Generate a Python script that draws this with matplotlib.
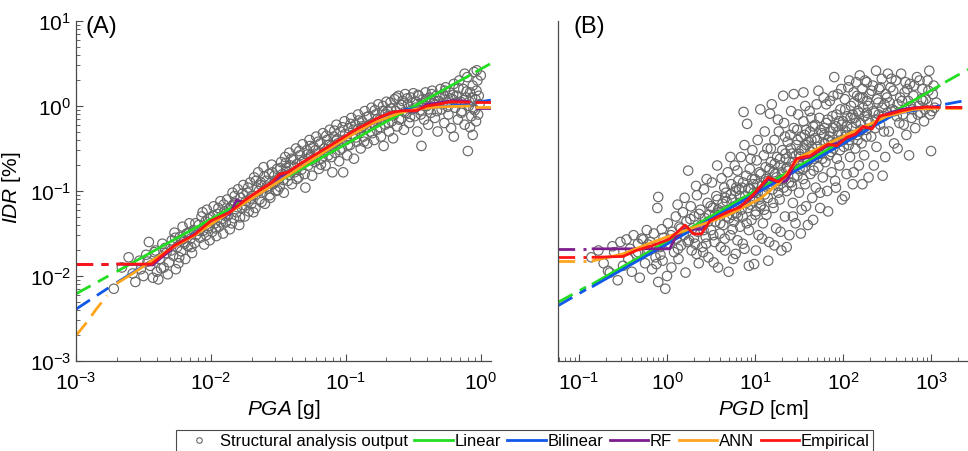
#1. Imports
import numpy as np
import matplotlib
matplotlib.use('Agg')
import matplotlib.pyplot as plt
from matplotlib.lines import Line2D

plt.rcParams['font.family'] = 'Liberation Sans'
plt.rcParams['mathtext.fontset'] = 'custom'
plt.rcParams['mathtext.rm'] = 'Liberation Sans'
plt.rcParams['mathtext.it'] = 'Liberation Sans:italic'
plt.rcParams['axes.unicode_minus'] = False

#2. Data (log10 values)
# panel A: structural analysis output, log10(PGA [g]) / log10(IDR [%])
a_points_log = [
    (-2.72, -2.15), (-2.61, -1.78), (-2.56, -2.07), (-2.52, -1.92), (-2.58, -1.97), (-2.66, -1.90), (-2.53, -1.82), (-2.50, -2.00),
    (-2.48, -1.75), (-2.45, -1.88), (-2.43, -2.02), (-2.41, -1.70), (-2.40, -1.95), (-2.38, -1.80), (-2.36, -1.62), (-2.35, -1.90),
    (-2.33, -1.73), (-2.32, -1.98), (-2.31, -1.84), (-2.46, -1.60), (-2.39, -2.04), (-2.34, -1.67),
    (-2.29, -1.58), (-2.28, -1.76), (-2.27, -1.49), (-2.25, -1.66), (-2.24, -1.85), (-2.23, -1.54), (-2.22, -1.71), (-2.21, -1.42),
    (-2.20, -1.60), (-2.19, -1.80), (-2.18, -1.50), (-2.17, -1.65), (-2.16, -1.38), (-2.15, -1.56), (-2.14, -1.73), (-2.13, -1.46),
    (-2.12, -1.61), (-2.11, -1.52), (-2.26, -1.92),
    (-2.09, -1.40), (-2.08, -1.55), (-2.07, -1.30), (-2.06, -1.47), (-2.05, -1.63), (-2.04, -1.36), (-2.03, -1.22), (-2.02, -1.44),
    (-2.01, -1.58), (-2.00, -1.31), (-1.99, -1.48), (-1.98, -1.18), (-1.97, -1.38), (-1.96, -1.53), (-1.95, -1.27), (-1.94, -1.42),
    (-1.93, -1.12), (-1.92, -1.33), (-1.91, -1.50), (-1.90, -1.24),
    (-1.89, -1.37), (-1.88, -1.10), (-1.87, -1.28), (-1.86, -1.45), (-1.85, -1.18), (-1.84, -1.02), (-1.83, -1.32), (-1.82, -1.14),
    (-1.81, -1.25), (-1.80, -0.98), (-1.79, -1.40), (-1.78, -1.08), (-1.77, -1.20), (-1.76, -0.93), (-1.75, -1.30), (-1.74, -1.12),
    (-1.73, -1.02), (-1.72, -1.24), (-1.71, -0.90), (-1.70, -1.15),
    (-1.69, -1.06), (-1.68, -0.84), (-1.67, -1.20), (-1.66, -0.96), (-1.65, -0.78), (-1.64, -1.10), (-1.63, -0.90), (-1.62, -1.02),
    (-1.61, -0.72), (-1.60, -1.15), (-1.59, -0.88), (-1.58, -0.97), (-1.57, -0.80), (-1.56, -1.08), (-1.55, -0.69), (-1.54, -0.92),
    (-1.53, -0.82), (-1.52, -1.00), (-1.51, -0.74), (-1.50, -0.86),
    (-1.49, -0.95), (-1.48, -0.66), (-1.47, -0.80), (-1.46, -1.02), (-1.45, -0.60), (-1.44, -0.73), (-1.43, -0.88), (-1.42, -0.55),
    (-1.41, -0.70), (-1.40, -0.92), (-1.39, -0.63), (-1.38, -0.78), (-1.37, -0.50), (-1.36, -0.68), (-1.35, -0.84), (-1.34, -0.58),
    (-1.33, -0.75), (-1.32, -0.45), (-1.31, -0.64), (-1.30, -0.96),
    (-1.29, -0.52), (-1.28, -0.70), (-1.27, -0.40), (-1.26, -0.60), (-1.25, -0.82), (-1.24, -0.48), (-1.23, -0.66), (-1.22, -0.36),
    (-1.21, -0.56), (-1.20, -0.74), (-1.19, -0.44), (-1.18, -0.62), (-1.17, -0.32), (-1.16, -0.50), (-1.15, -0.70), (-1.14, -0.40),
    (-1.13, -0.58), (-1.12, -0.28), (-1.11, -0.47), (-1.10, -0.78),
    (-1.09, -0.36), (-1.08, -0.55), (-1.07, -0.22), (-1.06, -0.44), (-1.05, -0.65), (-1.04, -0.30), (-1.03, -0.50), (-1.02, -0.78),
    (-1.01, -0.18), (-1.00, -0.40), (-0.99, -0.58), (-0.98, -0.26), (-0.97, -0.46), (-0.96, -0.14), (-0.95, -0.34), (-0.94, -0.62),
    (-0.93, -0.22), (-0.92, -0.42), (-0.91, -0.10), (-0.90, -0.30),
    (-0.89, -0.50), (-0.88, -0.18), (-0.87, -0.36), (-0.86, -0.06), (-0.85, -0.26), (-0.84, -0.44), (-0.83, -0.12), (-0.82, -0.30),
    (-0.81, -0.02), (-0.80, -0.20), (-0.79, -0.40), (-0.78, -0.10), (-0.77, -0.28), (-0.76, 0.02), (-0.75, -0.16), (-0.74, -0.36),
    (-0.73, -0.06), (-0.72, -0.47), (-0.71, -0.22), (-0.70, 0.05),
    (-0.69, -0.12), (-0.68, -0.30), (-0.67, 0.04), (-0.66, -0.18), (-0.65, -0.38), (-0.64, 0.08), (-0.63, -0.06), (-0.62, -0.24),
    (-0.61, 0.12), (-0.60, -0.02), (-0.59, -0.15), (-0.58, 0.06), (-0.57, -0.28), (-0.56, 0.14), (-0.55, -0.08), (-0.54, 0.02),
    (-0.53, -0.20), (-0.52, 0.10), (-0.51, -0.04), (-0.50, 0.15),
    (-0.49, -0.12), (-0.48, 0.05), (-0.47, -0.30), (-0.46, 0.12), (-0.45, -0.05), (-0.44, -0.47), (-0.43, 0.08), (-0.42, -0.16),
    (-0.41, 0.16), (-0.40, 0.00), (-0.39, -0.22), (-0.38, 0.10), (-0.37, -0.08), (-0.36, 0.18), (-0.35, 0.03), (-0.34, -0.14),
    (-0.33, 0.12), (-0.32, -0.30), (-0.31, 0.06), (-0.30, 0.20),
    (-0.29, -0.04), (-0.28, 0.14), (-0.27, -0.20), (-0.26, 0.22), (-0.25, 0.04), (-0.24, -0.10), (-0.23, 0.16), (-0.22, -0.26),
    (-0.21, 0.08), (-0.20, 0.26), (-0.19, -0.02), (-0.18, 0.12), (-0.17, -0.16), (-0.16, 0.30), (-0.15, 0.05), (-0.14, -0.06),
    (-0.13, 0.20), (-0.12, -0.22), (-0.11, 0.10), (-0.10, 0.34),
    (-0.09, 0.00), (-0.08, 0.16), (-0.07, -0.12), (-0.06, 0.24), (-0.05, 0.40), (-0.045, -0.05), (-0.04, 0.08), (-0.035, -0.18),
    (-0.03, 0.42), (-0.025, 0.30), (-0.02, -0.10), (-0.015, 0.12), (-0.01, 0.02), (-0.096, -0.53), (-0.06, -0.34), (0.0, 0.36),
    (-0.12, 0.38), (-0.20, -0.36), (-0.08, -0.25),
    # denser core of the cloud
    (-2.47, -1.83), (-2.42, -1.72), (-2.37, -1.91), (-2.295, -1.70), (-2.265, -1.55), (-2.235, -1.78), (-2.195, -1.62),
    (-2.165, -1.49), (-2.145, -1.66), (-2.115, -1.38), (-2.085, -1.47), (-2.062, -1.25), (-2.035, -1.52), (-2.015, -1.41),
    (-1.985, -1.29), (-1.965, -1.44), (-1.945, -1.20), (-1.925, -1.37), (-1.905, -1.16), (-1.885, -1.30), (-1.865, -1.21),
    (-1.845, -1.38), (-1.825, -1.06), (-1.805, -1.19), (-1.785, -1.31), (-1.765, -1.03), (-1.745, -1.17), (-1.725, -0.96),
    (-1.705, -1.09), (-1.685, -1.25), (-1.665, -0.88), (-1.645, -1.00), (-1.625, -1.13), (-1.605, -0.83), (-1.585, -0.95),
    (-1.565, -1.05), (-1.545, -0.78), (-1.525, -0.90), (-1.505, -0.99), (-1.485, -0.73), (-1.465, -0.87), (-1.445, -0.67),
    (-1.425, -0.81), (-1.405, -0.62), (-1.385, -0.72), (-1.365, -0.86), (-1.345, -0.53), (-1.325, -0.66), (-1.305, -0.80),
    (-1.285, -0.57), (-1.265, -0.47), (-1.245, -0.63), (-1.225, -0.52), (-1.205, -0.42), (-1.185, -0.69), (-1.165, -0.55),
    (-1.145, -0.35), (-1.125, -0.46), (-1.105, -0.60), (-1.085, -0.29), (-1.065, -0.39), (-1.045, -0.52), (-1.025, -0.25),
    (-1.005, -0.33), (-0.985, -0.46), (-0.965, -0.21), (-0.945, -0.28), (-0.925, -0.37), (-0.905, -0.17), (-0.885, -0.26),
    (-0.865, -0.42), (-0.845, -0.13), (-0.825, -0.22), (-0.805, -0.32), (-0.785, -0.05), (-0.765, -0.15), (-0.745, -0.25),
    (-0.725, 0.00), (-0.705, -0.09), (-0.685, -0.20), (-0.665, -0.03), (-0.645, -0.11), (-0.625, 0.10), (-0.605, -0.16),
    (-0.585, 0.01), (-0.565, -0.07), (-0.545, 0.09), (-0.525, -0.13), (-0.505, 0.04), (-0.485, -0.02), (-0.465, 0.13),
    (-0.445, -0.10), (-0.425, 0.03), (-0.405, 0.08), (-0.385, -0.04), (-0.365, 0.14), (-0.345, 0.06), (-0.325, -0.06),
    (-0.305, 0.11), (-0.285, 0.02), (-0.265, 0.18), (-0.245, -0.01), (-0.225, 0.09), (-0.205, 0.13), (-0.185, 0.04),
    (-0.165, 0.21), (-0.145, -0.08), (-0.125, 0.07), (-0.105, 0.17), (-0.085, 0.05), (-0.065, 0.10), (-0.055, -0.03),
    (-0.032, 0.18), (-2.21, -1.57), (-2.02, -1.33), (-1.83, -1.15), (-1.63, -0.93), (-1.44, -0.77), (-1.26, -0.58),
    (-1.07, -0.41), (-0.88, -0.24), (-0.69, -0.06),
]

# panel B: log10(PGD [cm]) / log10(IDR [%])
b_points_log = [
    (-0.86, -1.78), (-0.67, -1.94), (-0.65, -1.96), (-0.53, -1.60), (-0.60, -1.72), (-0.72, -1.85), (-0.56, -2.05), (-0.78, -1.70),
    (-0.50, -1.88), (-0.62, -1.65),
    (-0.46, -1.57), (-0.44, -1.80), (-0.42, -1.68), (-0.40, -1.95), (-0.38, -1.52), (-0.35, -1.74), (-0.33, -1.62), (-0.31, -2.02),
    (-0.29, -1.56), (-0.27, -1.57), (-0.25, -1.85), (-0.23, -1.46), (-0.21, -1.70), (-0.19, -1.60), (-0.17, -1.92), (-0.15, -1.50),
    (-0.13, -1.78), (-0.12, -1.86), (-0.11, -1.20), (-0.10, -1.07), (-0.10, -2.07),
    (-0.08, -1.66), (-0.06, -1.45), (-0.05, -1.82), (-0.04, -1.55), (-0.02, -2.15), (0.00, -2.00), (0.01, -1.38), (0.03, -1.62),
    (0.05, -1.90), (0.06, -1.48), (0.08, -1.72), (0.10, -1.30), (0.11, -1.56), (0.13, -1.80), (0.14, -1.42), (0.16, -1.64),
    (0.18, -1.25), (0.19, -1.52), (0.21, -1.96), (0.22, -1.36), (0.24, -0.76), (0.25, -1.58), (0.27, -1.18), (0.28, -1.70),
    (0.29, -1.44),
    (0.31, -1.30), (0.32, -1.62), (0.34, -1.05), (0.35, -1.48), (0.36, -1.85), (0.38, -1.22), (0.39, -1.40), (0.40, -1.66),
    (0.42, -0.98), (0.43, -1.32), (0.44, -1.54), (0.46, -1.14), (0.47, -1.78), (0.48, -1.28), (0.50, -1.46), (0.51, -0.90),
    (0.52, -1.20), (0.54, -1.60), (0.55, -1.36), (0.56, -1.06), (0.58, -1.90), (0.59, -1.25), (0.60, -1.50), (0.62, -0.85),
    (0.63, -1.15), (0.64, -1.40), (0.66, -1.70), (0.67, -1.02), (0.68, -1.30), (0.69, -0.78),
    (0.71, -1.22), (0.72, -1.52), (0.73, -0.92), (0.74, -1.10), (0.75, -1.80), (0.76, -1.36), (0.77, -0.70), (0.78, -1.00),
    (0.79, -1.26), (0.80, -1.58), (0.81, -0.88), (0.82, -1.14), (0.83, -1.42), (0.84, -0.60), (0.85, -0.96), (0.86, -1.30),
    (0.87, -0.07), (0.88, -1.68), (0.89, -1.06), (0.90, -0.82), (0.91, -0.21), (0.92, -1.20), (0.93, -1.46), (0.94, -0.74),
    (0.95, -0.98), (0.96, -1.34), (0.97, -0.52), (0.98, -1.12), (0.99, -1.86), (1.00, -0.86), (1.01, -1.24), (1.02, -0.64),
    (1.03, -1.02), (1.04, -1.52), (1.05, -0.78), (1.06, -0.04), (1.07, -1.16), (1.08, -0.94), (1.09, -1.38), (1.10, -0.58),
    (1.11, -1.04), (1.12, -0.72), (1.13, -1.28), (1.14, -0.50), (1.15, -0.88), (1.16, -1.60), (1.17, -0.09), (1.18, -0.66),
    (1.19, 0.02), (1.20, -0.98), (1.21, -1.20), (1.22, -0.40), (1.23, -0.80), (1.24, -1.44), (1.25, -0.60), (1.26, -0.94),
    (1.27, -0.30), (1.28, -1.10), (1.29, -0.70), (1.30, -1.70), (1.31, -0.52), (1.32, -0.86), (1.33, -0.20), (1.34, -1.30),
    (1.35, -0.62), (1.36, -1.00), (1.37, -0.42), (1.38, -0.76), (1.39, -1.52), (1.40, -0.34), (1.41, -0.90), (1.42, -0.56),
    (1.43, -1.14), (1.44, -0.26), (1.45, -0.70), (1.46, -1.38), (1.47, -0.46), (1.48, -0.82), (1.49, -0.10), (1.50, -1.02),
    (1.51, -0.60), (1.52, -0.36), (1.53, -1.22), (1.54, -0.74), (1.55, -0.18), (1.56, -0.50), (1.57, -0.92), (1.58, -0.28),
    (1.59, -0.66), (1.60, -1.40), (1.61, -0.42), (1.62, -0.06), (1.63, -0.80), (1.64, -0.54), (1.65, -1.08), (1.66, -0.24),
    (1.67, -0.62), (1.68, -0.38), (1.69, -0.96), (1.70, 0.02), (1.71, -0.48), (1.72, -0.72), (1.73, -0.14), (1.74, -1.20),
    (1.75, -0.56), (1.76, -0.32), (1.77, -0.84), (1.78, 0.10), (1.79, -0.44), (1.80, -0.66), (1.81, -0.20), (1.82, -1.00),
    (1.83, -0.40), (1.84, -0.58), (1.85, 0.06), (1.86, -0.30), (1.87, -0.78), (1.88, -0.12), (1.89, -0.50), (1.90, 0.34),
    (1.91, -0.88), (1.92, -0.24), (1.93, -0.62), (1.94, 0.14), (1.95, -0.42), (1.96, -0.70), (1.97, -0.04), (1.98, -0.34),
    (1.99, -1.10), (2.00, -0.18),
    (2.01, -0.48), (2.02, 0.08), (2.03, -0.30), (2.04, -0.80), (2.05, -0.12), (2.06, 0.22), (2.07, -0.40), (2.08, -0.60),
    (2.09, 0.00), (2.10, -0.26), (2.11, -0.92), (2.12, 0.16), (2.13, -0.14), (2.14, -0.50), (2.15, 0.28), (2.16, -0.34),
    (2.17, -0.06), (2.18, -0.70), (2.19, 0.10), (2.20, -0.20), (2.21, -0.44), (2.22, 0.20), (2.23, -0.02), (2.24, -0.58),
    (2.25, 0.30), (2.26, -0.28), (2.27, 0.06), (2.28, -0.16), (2.29, -0.84), (2.30, 0.14), (2.32, -0.36), (2.34, 0.24),
    (2.36, -0.08), (2.375, 0.415), (2.38, -0.48), (2.40, 0.04), (2.42, -0.22), (2.44, 0.32), (2.46, -0.12), (2.48, -0.60),
    (2.50, 0.10), (2.52, -0.30), (2.54, 0.22), (2.56, -0.04), (2.58, -0.44), (2.60, 0.30), (2.62, 0.02), (2.64, -0.20),
    (2.66, 0.38), (2.68, -0.10), (2.70, 0.16), (2.72, -0.34), (2.74, 0.06), (2.76, 0.26), (2.78, -0.14), (2.80, 0.12),
    (2.82, -0.26), (2.84, 0.34), (2.86, 0.00), (2.88, -0.08), (2.90, 0.20), (2.92, -0.18), (2.94, 0.08), (2.96, 0.30),
    (2.98, 0.415), (3.00, -0.53), (3.01, -0.06), (3.02, 0.14), (3.04, -0.02), (3.06, 0.04),
    (2.19, 0.36), (2.51, 0.38), (1.32, 0.12), (1.44, 0.14), (1.55, 0.16),
    # denser core of the cloud
    (-0.33, -1.72), (-0.215, -1.63), (-0.075, -1.75), (0.045, -1.52), (0.125, -1.68), (0.155, -1.44), (0.235, -1.60),
    (0.265, -1.33), (0.305, -1.55), (0.335, -1.74), (0.365, -1.27), (0.415, -1.46), (0.445, -1.62), (0.465, -1.36),
    (0.495, -1.18), (0.525, -1.52), (0.545, -1.28), (0.575, -1.10), (0.605, -1.38), (0.635, -1.24), (0.655, -1.56),
    (0.675, -1.12), (0.705, -1.32), (0.725, -1.04), (0.745, -1.45), (0.765, -1.18), (0.785, -0.96), (0.805, -1.30),
    (0.825, -1.06), (0.845, -1.22), (0.865, -0.90), (0.885, -1.12), (0.905, -1.38), (0.925, -0.97), (0.945, -1.16),
    (0.965, -0.86), (0.985, -1.02), (1.005, -1.28), (1.025, -0.92), (1.045, -1.10), (1.065, -0.80), (1.085, -1.00),
    (1.105, -1.22), (1.125, -0.86), (1.145, -1.08), (1.165, -0.74), (1.185, -0.92), (1.205, -1.14), (1.225, -0.68),
    (1.245, -0.84), (1.265, -1.02), (1.285, -0.62), (1.305, -0.78), (1.325, -0.96), (1.345, -0.56), (1.365, -0.72),
    (1.385, -0.90), (1.405, -0.50), (1.425, -0.66), (1.445, -0.84), (1.465, -0.58), (1.485, -0.40), (1.505, -0.74),
    (1.525, -0.52), (1.545, -0.86), (1.565, -0.34), (1.585, -0.46), (1.605, -0.64), (1.625, -0.30), (1.645, -0.48),
    (1.665, -0.76), (1.685, -0.22), (1.705, -0.40), (1.725, -0.56), (1.745, -0.28), (1.765, -0.62), (1.785, -0.34),
    (1.805, -0.50), (1.825, -0.16), (1.845, -0.36), (1.865, -0.54), (1.885, -0.26), (1.905, -0.44), (1.925, -0.10),
    (1.945, -0.30), (1.965, -0.52), (1.985, -0.22), (2.005, -0.40), (2.025, -0.04), (2.045, -0.24), (2.065, -0.46),
    (2.085, -0.14), (2.105, -0.34), (2.125, 0.04), (2.145, -0.20), (2.165, -0.40), (2.185, -0.08), (2.205, -0.28),
    (2.225, 0.10), (2.245, -0.12), (2.265, -0.36), (2.285, 0.00), (2.305, -0.20), (2.325, 0.18), (2.345, -0.06),
    (2.365, -0.26), (2.385, 0.08), (2.405, -0.10), (2.425, 0.22), (2.445, -0.02), (2.465, -0.30), (2.485, 0.14),
    (2.505, -0.08), (2.53, 0.04), (2.57, 0.18), (2.61, -0.12), (2.65, 0.10), (2.69, -0.22), (2.73, 0.20), (2.77, 0.00),
    (2.81, 0.24), (2.85, -0.10), (2.89, 0.08), (2.93, -0.04), (2.97, 0.18), (3.03, 0.24),
    # lower edge and upper edge of the band
    (0.41, -1.72), (0.53, -1.84), (0.61, -1.66), (0.70, -1.95), (0.78, -1.74), (0.86, -1.62), (0.93, -1.88), (1.01, -1.70),
    (1.08, -1.56), (1.15, -1.82), (1.22, -1.64), (1.29, -1.48), (1.36, -1.66), (1.43, -1.30), (1.52, -1.50), (1.58, -1.18),
    (1.66, -1.34), (1.74, -1.02), (1.83, -1.24), (1.92, -0.96), (2.02, -1.06), (2.12, -0.78), (2.22, -0.92), (2.35, -0.70),
    (2.45, -0.82), (2.62, -0.50), (2.75, -0.58),
    (0.12, -1.16), (0.20, -1.08), (0.33, -0.94), (0.45, -0.86), (0.57, -0.70), (0.65, -0.96), (0.72, -0.60), (0.80, -0.76),
    (0.88, -0.46), (0.95, -0.62), (1.03, -0.40), (1.11, -0.30), (1.18, -0.50), (1.26, -0.16), (1.34, -0.36), (1.41, -0.06),
    (1.48, -0.28), (1.57, 0.00), (1.64, -0.14), (1.72, 0.18), (1.81, 0.02), (1.89, 0.12), (1.98, 0.20), (2.07, 0.30),
    (2.16, 0.12), (2.27, 0.28), (2.41, 0.20), (2.55, 0.32), (2.71, 0.28), (2.87, 0.30),
    (0.58, -1.22), (0.66, -1.08), (0.74, -1.28), (0.82, -0.98), (0.90, -1.14), (0.98, -0.92), (1.06, -1.18), (1.14, -0.96),
    (1.21, -0.78), (1.28, -0.88), (1.35, -0.74), (1.42, -0.94), (1.50, -0.56), (1.57, -0.72), (1.64, -0.40), (1.71, -0.60),
    (1.79, -0.26), (1.87, -0.42), (1.95, -0.18), (2.03, -0.36), (2.11, -0.10), (2.19, -0.30), (2.27, -0.08), (2.37, -0.16),
    (2.47, 0.02), (2.59, -0.06), (2.67, 0.06), (2.79, -0.04), (2.91, 0.06), (2.99, -0.10),
]

# model curves, panel A (log10 PGA, log10 IDR): lower extrapolation, fitted range, upper extrapolation
a_linear = ([(-3.0, -2.21), (-2.76, -2.00)],
            [(-2.69, -1.94), (-0.087, 0.357)],
            [(-0.04, 0.40), (0.074, 0.50)])
a_bilinear = ([(-3.0, -2.39), (-2.76, -2.14)],
              [(-2.69, -2.07), (-0.85, -0.23), (-0.70, -0.10), (-0.55, -0.04), (-0.087, 0.02)],
              [(-0.04, 0.04), (0.074, 0.07)])
a_rf = ([(-3.0, -1.86), (-2.76, -1.86)],
        [(-2.69, -1.86), (-2.43, -1.87), (-2.38, -1.80), (-2.27, -1.66), (-2.12, -1.52), (-2.0, -1.37), (-1.86, -1.27),
         (-1.81, -1.11), (-1.75, -1.13), (-1.70, -1.06), (-1.64, -1.02), (-1.55, -0.92), (-1.49, -0.83), (-1.43, -0.78),
         (-1.34, -0.70), (-1.22, -0.58), (-1.12, -0.49), (-1.02, -0.39), (-0.92, -0.29), (-0.82, -0.22), (-0.75, -0.16),
         (-0.66, -0.09), (-0.58, -0.06), (-0.48, -0.06), (-0.40, 0.02), (-0.30, 0.04), (-0.22, 0.06), (-0.13, 0.06),
         (-0.087, 0.05)],
        [(-0.04, -0.025), (0.074, -0.025)])
a_ann = ([(-3.0, -2.70), (-2.92, -2.545), (-2.85, -2.39), (-2.77, -2.23)],
         [(-2.69, -2.08), (-2.55, -1.94), (-2.45, -1.83), (-2.30, -1.68), (-2.13, -1.53), (-1.98, -1.37), (-1.74, -1.13),
          (-1.49, -0.88), (-1.22, -0.60), (-1.0, -0.38), (-0.8, -0.20), (-0.6, -0.08), (-0.476, -0.035), (-0.3, -0.01),
          (-0.087, 0.0)],
         [(-0.04, -0.01), (0.074, -0.01)])
a_empirical = ([(-3.0, -1.86), (-2.76, -1.86)],
               [(-2.69, -1.86), (-2.44, -1.86), (-2.27, -1.64), (-2.12, -1.51), (-2.0, -1.35), (-1.86, -1.25),
                (-1.75, -1.11), (-1.64, -0.99), (-1.55, -0.90), (-1.49, -0.80), (-1.43, -0.78), (-1.34, -0.68),
                (-1.22, -0.565), (-1.12, -0.47), (-1.02, -0.37), (-0.92, -0.27), (-0.82, -0.19), (-0.75, -0.13),
                (-0.66, -0.075), (-0.58, -0.055), (-0.48, -0.055), (-0.40, 0.0), (-0.30, 0.025), (-0.22, 0.05),
                (-0.13, 0.045), (-0.087, 0.045)],
               [(-0.04, 0.045), (0.074, 0.045)])

# model curves, panel B (log10 PGD, log10 IDR)
b_linear = ([(-1.24, -2.31), (-0.92, -2.13)],
            [(-0.84, -2.09), (3.09, 0.235)],
            [(3.16, 0.28), (3.42, 0.43)])
b_bilinear = ([(-1.24, -2.35), (-0.92, -2.16)],
              [(-0.84, -2.12), (2.60, -0.09), (3.09, 0.0)],
              [(3.16, 0.02), (3.42, 0.07)])
b_rf = ([(-1.24, -1.68), (-0.92, -1.68)],
        [(-0.84, -1.68), (0.03, -1.68), (0.09, -1.56), (0.2, -1.45), (0.39, -1.45), (0.49, -1.35), (0.68, -1.26),
         (0.83, -1.19), (0.98, -1.06), (1.15, -0.86), (1.27, -0.90), (1.36, -0.88), (1.47, -0.64), (1.625, -0.60),
         (1.83, -0.46), (1.93, -0.44), (2.04, -0.38), (2.14, -0.34), (2.23, -0.26), (2.33, -0.25), (2.42, -0.13),
         (2.53, -0.08), (2.67, -0.04), (2.80, -0.02), (2.95, -0.015), (3.09, -0.015)],
        [(3.16, -0.015), (3.42, -0.015)])
b_ann = ([(-1.24, -1.82), (-0.92, -1.82)],
         [(-0.84, -1.82), (-0.50, -1.74), (-0.16, -1.60), (0.30, -1.43), (0.68, -1.29), (1.06, -1.09), (1.28, -0.90),
          (1.51, -0.60), (2.04, -0.34), (2.50, -0.12), (2.80, -0.04), (3.09, -0.025)],
         [(3.16, -0.025), (3.42, -0.025)])
b_empirical = ([(-1.24, -1.78), (-0.92, -1.78)],
               [(-0.84, -1.78), (-0.50, -1.77), (-0.35, -1.70), (-0.16, -1.64), (0.03, -1.565), (0.205, -1.40),
                (0.30, -1.505), (0.39, -1.505), (0.49, -1.35), (0.68, -1.25), (0.83, -1.19), (0.98, -1.04),
                (1.15, -0.84), (1.265, -0.89), (1.36, -0.82), (1.47, -0.62), (1.625, -0.585), (1.83, -0.45),
                (1.93, -0.47), (2.04, -0.37), (2.14, -0.33), (2.23, -0.24), (2.33, -0.27), (2.42, -0.115),
                (2.53, -0.095), (2.67, -0.055), (2.80, -0.027), (2.95, -0.012), (3.09, -0.015)],
               [(3.16, -0.015), (3.42, -0.015)])

model_names = ['Linear', 'Bilinear', 'RF', 'ANN', 'Empirical']
model_colors = ['#22dd22', '#1058e8', '#7d1d8e', '#ffa41c', '#ff1414']
a_models = [a_linear, a_bilinear, a_rf, a_ann, a_empirical]
b_models = [b_linear, b_bilinear, b_rf, b_ann, b_empirical]

a_xlim = (1e-3, 1.19)
b_xlim = (0.0577, 2630)
ylim = (1e-3, 10)

edge_gray = '#4a4a4a'
point_gray = '#686868'


#3. Helpers
def unlog(pts):
    arr = np.array(pts, dtype=float)
    return 10 ** arr[:, 0], 10 ** arr[:, 1]


def draw_panel(ax, points, models):
    px, py = unlog(points)
    ax.scatter(px, py, s=46, facecolors='none', edgecolors=point_gray, linewidths=0.85, zorder=1)
    for (lo, mid, hi), c in zip(models, model_colors):
        for seg in (lo, hi):
            x, y = unlog(seg)
            ax.plot(x, y, color=c, lw=2.0, dashes=(6, 3), zorder=2)
        x, y = unlog(mid)
        ax.plot(x, y, color=c, lw=2.0, zorder=3)
    ax.set_xscale('log')
    ax.set_yscale('log')
    ax.set_ylim(*ylim)
    for s in ['top', 'right']:
        ax.spines[s].set_visible(False)
    for s in ['left', 'bottom']:
        ax.spines[s].set_color(edge_gray)
        ax.spines[s].set_linewidth(0.9)
    ax.tick_params(which='both', direction='in', colors=edge_gray, labelcolor='black', labelsize=15)
    ax.tick_params(which='major', length=5, width=0.8)
    ax.tick_params(which='minor', length=3, width=0.6)
    ax.tick_params(axis='x', pad=7)


#4. Figure
fig = plt.figure(figsize=(9.68, 4.52), dpi=100)
ax_a = fig.add_axes([76 / 968, 1 - 362 / 452, 415 / 968, 340 / 452])
ax_b = fig.add_axes([558 / 968, 1 - 362 / 452, 410 / 968, 340 / 452])

draw_panel(ax_a, a_points_log, a_models)
ax_a.set_xlim(*a_xlim)
ax_a.set_xticks([1e-3, 1e-2, 1e-1, 1e0])
ax_a.set_yticks([1e-3, 1e-2, 1e-1, 1e0, 1e1])
ax_a.set_xlabel(r'$\mathit{PGA}$ [g]', fontsize=15, labelpad=3)
ax_a.set_ylabel(r'$\mathit{IDR}$ [%]', fontsize=15)
ax_a.yaxis.set_label_coords(-0.128, 0.512)
ax_a.text(0.022, 0.985, '(A)', transform=ax_a.transAxes, fontsize=17, va='center', ha='left')

draw_panel(ax_b, b_points_log, b_models)
ax_b.set_xlim(*b_xlim)
ax_b.set_xticks([1e-1, 1e0, 1e1, 1e2, 1e3])
ax_b.tick_params(axis='y', which='both', left=False, labelleft=False)
ax_b.set_xlabel(r'$\mathit{PGD}$ [cm]', fontsize=15, labelpad=3)
ax_b.text(0.037, 0.985, '(B)', transform=ax_b.transAxes, fontsize=17, va='center', ha='left')

#5. Legend
handles = [Line2D([], [], ls='none', marker='o', mfc='none', mec=point_gray, ms=4, mew=0.8,
                  label='Structural analysis output')]
for name, c in zip(model_names, model_colors):
    handles.append(Line2D([], [], color=c, lw=2.0, label=name))
leg = fig.legend(handles=handles, loc='upper center', bbox_to_anchor=(524.5 / 968, 1 - 431 / 452), ncol=6,
                 frameon=True, fancybox=False, framealpha=1, edgecolor=edge_gray,
                 prop={'size': 12}, handlelength=2.3, handletextpad=0.1, columnspacing=0.4,
                 borderpad=0.2, borderaxespad=0)
leg.get_frame().set_linewidth(0.8)

fig.savefig('out.png', dpi=100)
